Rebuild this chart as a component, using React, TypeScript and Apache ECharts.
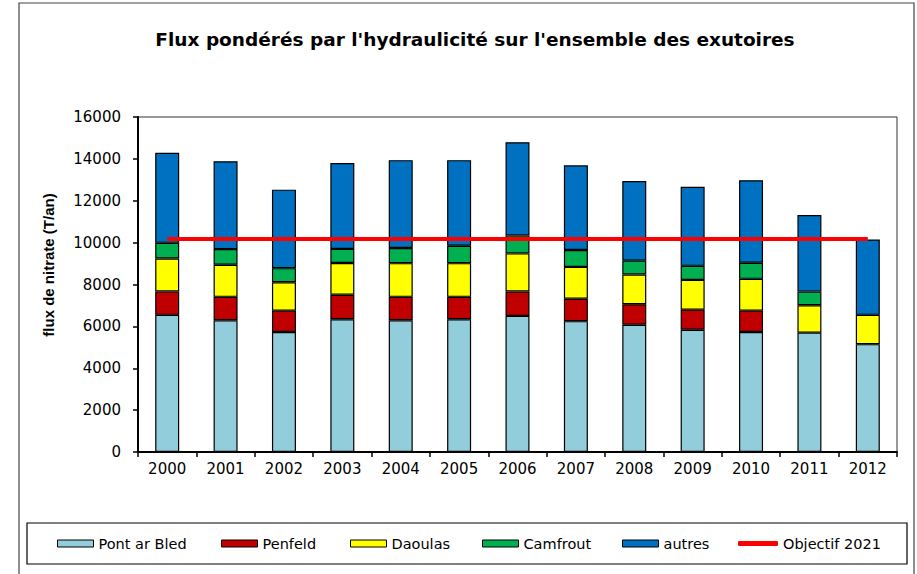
import React, { useEffect, useRef } from "react";
import * as echarts from "echarts";

const years = ["2000", "2001", "2002", "2003", "2004", "2005", "2006", "2007", "2008", "2009", "2010", "2011", "2012"];
const pontArBled = [6550, 6290, 5730, 6340, 6290, 6340, 6500, 6250, 6080, 5840, 5730, 5700, 5150];
const penfeld = [1120, 1120, 1020, 1170, 1120, 1070, 1165, 1070, 980, 960, 1020, null, null];
const daoulas = [1570, 1530, 1360, 1520, 1610, 1610, 1820, 1520, 1420, 1420, 1520, 1310, 1400];
const camfrout = [750, 750, 670, 670, 720, 830, 860, 810, 660, 670, 770, 650, null];
const autres = [4300, 4200, 3750, 4100, 4200, 4090, 4450, 4040, 3800, 3780, 3940, 3660, 3600];
const objectif = [10170, 10170, 10170, 10170, 10170, 10170, 10170, 10170, 10170, 10170, 10170, 10170, 10170];

const FONT = "DejaVu Sans";

export default function App() {
  const ref = useRef<HTMLDivElement>(null);
  useEffect(() => {
    if (!ref.current) return;
    const chart = echarts.init(ref.current, undefined, { renderer: "svg" });
    const barStyle = (color: string) => ({ color, borderColor: "#000", borderWidth: 1.2 });
    const mkBar = (name: string, data: (number | null)[], color: string) => ({
      name,
      type: "bar",
      stack: "total",
      barWidth: 24,
      data,
      itemStyle: barStyle(color),
    });
    const legendItem = (name: string, left: number, isLine = false) => ({
      left,
      top: 536,
      padding: 0,
      orient: "horizontal",
      itemWidth: isLine ? 40 : 36,
      itemHeight: isLine ? 5 : 7,
      itemGap: 0,
      textStyle: { fontFamily: FONT, fontSize: 14.5, color: "#000" },
      data: [
        isLine
          ? { name, icon: "roundRect", itemStyle: { color: "#FF0000", borderWidth: 0 } }
          : { name, icon: "rect", itemStyle: { borderColor: "#000", borderWidth: 1 } },
      ],
    });
    chart.setOption({
      animation: false,
      backgroundColor: "#fff",
      title: {
        text: "Flux pondérés par l'hydraulicité sur l'ensemble des exutoires",
        left: 470,
        top: 25,
        textAlign: "center",
        textStyle: { fontFamily: FONT, fontWeight: "bold", fontSize: 18.5, color: "#000" },
      },
      graphic: [
        { type: "rect", shape: { x: 19, y: 3, width: 895, height: 600 }, style: { fill: "none", stroke: "#444", lineWidth: 1.2 }, silent: true },
        { type: "rect", shape: { x: 27, y: 523, width: 880, height: 41 }, style: { fill: "none", stroke: "#000", lineWidth: 1.2 }, silent: true },
        {
          type: "text",
          x: 48,
          y: 265,
          rotation: Math.PI / 2,
          style: {
            text: "flux de nitrate (T/an)",
            fontFamily: "Liberation Sans",
            fontWeight: "bold",
            fontSize: 15,
            fill: "#000",
            align: "center",
            verticalAlign: "middle",
          },
          silent: true,
        },
      ],
      legend: [
        legendItem("Pont ar Bled", 57),
        legendItem("Penfeld", 221),
        legendItem("Daoulas", 350),
        legendItem("Camfrout", 482),
        legendItem("autres", 622),
        legendItem("Objectif 2021", 738, true),
      ],
      grid: {
        left: 138,
        top: 117,
        width: 759,
        height: 335,
        show: true,
        borderColor: "#333",
        borderWidth: 1,
        backgroundColor: "transparent",
      },
      xAxis: {
        type: "category",
        data: years,
        axisLine: { lineStyle: { color: "#000", width: 2 } },
        axisTick: { show: true, length: 5, lineStyle: { color: "#000", width: 1.5 } },
        axisLabel: { fontFamily: FONT, fontSize: 15, color: "#000", margin: 9 },
      },
      yAxis: {
        type: "value",
        min: 0,
        max: 16000,
        interval: 2000,
        axisLine: { show: true, lineStyle: { color: "#000", width: 2 } },
        axisTick: { show: true, length: 5, lineStyle: { color: "#000", width: 1.5 } },
        axisLabel: { fontFamily: FONT, fontSize: 15, color: "#000", margin: 17, formatter: (v: number) => String(v) },
        splitLine: { show: false },
      },
      series: [
        mkBar("Pont ar Bled", pontArBled, "#92CDDC"),
        mkBar("Penfeld", penfeld, "#C00000"),
        mkBar("Daoulas", daoulas, "#FFFF00"),
        mkBar("Camfrout", camfrout, "#00B050"),
        mkBar("autres", autres, "#0070C0"),
        {
          name: "Objectif 2021",
          type: "line",
          data: objectif,
          symbol: "none",
          z: 10,
          itemStyle: { color: "#FF0000" },
          lineStyle: { color: "#FF0000", width: 4 },
        },
      ],
    });
    return () => chart.dispose();
  }, []);
  return <div ref={ref} style={{ position: "fixed", left: 0, top: 0, width: 917, height: 574 }} />;
}
